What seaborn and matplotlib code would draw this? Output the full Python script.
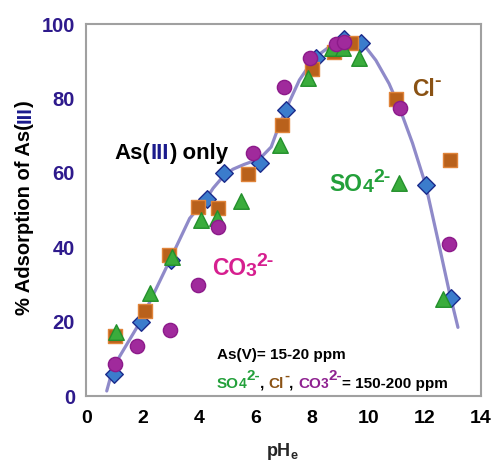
import seaborn as sns
import pandas as pd
import matplotlib.pyplot as plt

# As(III) only (diamonds)
ph_as3 = [1.0, 1.95, 3.0, 4.27, 4.9, 6.15, 7.1, 8.15, 9.15, 9.75, 12.05, 12.95]
ads_as3 = [6, 20, 36.5, 53, 60, 62.6, 77, 91, 96, 95, 56.7, 26.3]

# Cl- (squares)
ph_cl = [1.02, 2.1, 2.95, 3.96, 4.66, 5.72, 6.93, 8.0, 8.8, 9.4, 11.0, 12.9]
ads_cl = [16.2, 23, 38, 50.8, 50.5, 59.7, 73, 88, 92.5, 95, 80, 63.6]

# SO4 2- (triangles)
ph_so4 = [1.05, 2.25, 3.05, 4.07, 4.63, 5.48, 6.86, 7.85, 8.73, 9.1, 9.68, 11.1, 12.65]
ads_so4 = [17.2, 27.7, 37.3, 47.3, 47.8, 52.4, 67.5, 85.5, 93.5, 93.6, 91, 57.2, 26.2]

# CO3 2- (circles)
ph_co3 = [1.03, 1.82, 2.97, 3.96, 4.66, 5.9, 7.0, 7.92, 8.87, 9.15, 11.13, 12.86]
ads_co3 = [8.6, 13.4, 17.7, 30, 45.5, 65.3, 83, 91, 94.8, 95.2, 77.5, 40.8]

# trend curve
ph_fit = [0.73, 0.96, 1.91, 2.97, 3.67, 4.27, 4.5, 4.85, 5.2, 5.6, 6.15, 6.56, 6.86, 7.1,
          7.56, 8.1, 8.73, 9.2, 9.5, 9.8, 10.27, 10.74, 11.1, 11.57, 12.04, 12.5, 12.86, 13.18]
ads_fit = [1.4, 7.8, 19.9, 36.6, 47.8, 53.2, 55.9, 59.0, 61.0, 62.3, 63.8, 67, 73.2, 77.4,
           85, 91, 94.5, 96.0, 95.9, 94.9, 90.3, 84, 77.7, 68, 56.7, 41, 28.5, 18.5]

x_ticks = [0, 2, 4, 6, 8, 10, 12, 14]
y_ticks = [0, 20, 40, 60, 80, 100]

sns.set_style('white')
plt.rcParams['font.family'] = ['Liberation Sans', 'DejaVu Sans']
plt.rcParams['font.weight'] = 'bold'
plt.rcParams['mathtext.fontset'] = 'custom'
plt.rcParams['mathtext.bf'] = 'Liberation Sans:bold'
plt.rcParams['mathtext.rm'] = 'Liberation Sans:bold'

fig = plt.figure(figsize=(4.98, 4.65), dpi=100)
ax = fig.add_axes([0.173, 0.148, 0.793, 0.8])

fit_df = pd.DataFrame({'pH': ph_fit, 'ads': ads_fit})
sns.lineplot(data=fit_df, x='pH', y='ads', sort=False, color='#8f8ac9', lw=2.3, ax=ax, zorder=2)

series = [
    (ph_as3, ads_as3, 'D', '#3b7ccc', '#1b2b8c', 80),
    (ph_cl, ads_cl, 's', '#b9611b', '#e0843a', 110),
    (ph_so4, ads_so4, '^', '#3aac3c', '#23902c', 125),
    (ph_co3, ads_co3, 'o', '#a02a9c', '#8c1a8a', 105),
]
for i, (xv, yv, mk, fc, ec, s) in enumerate(series):
    df = pd.DataFrame({'pH': xv, 'ads': yv})
    sns.scatterplot(data=df, x='pH', y='ads', marker=mk, color=fc, edgecolor=ec,
                    linewidth=1.0, s=s, ax=ax, zorder=3 + i)

ax.set_xlim(0, 14)
ax.set_ylim(0, 100)
ax.set_xticks(x_ticks)
ax.set_yticks(y_ticks)
ax.set_xlabel('')
ax.set_ylabel('')
ax.tick_params(axis='x', direction='in', length=4, color='#999999', labelsize=14,
               labelcolor='black', pad=10)
ax.tick_params(axis='y', direction='out', length=4, color='#999999', labelsize=14.5,
               labelcolor='#2e1a8c', pad=4)
for lab in ax.get_xticklabels() + ax.get_yticklabels():
    lab.set_fontweight('bold')
for sp in ax.spines.values():
    sp.set_color('#a0a0a0')
    sp.set_linewidth(1.5)


def rich(x, y, pieces, size, coords, rot=0):
    # pieces: (text, color, scale, rise in fraction of size)
    base = None
    prev = None
    for txt, col, scale, rise in pieces:
        if base is None:
            if coords == 'fig':
                t = fig.text(x, y, txt, color=col, fontsize=size * scale, fontweight='bold',
                             ha='left' if rot == 0 else 'center', va='bottom', rotation=rot)
            else:
                t = ax.text(x, y, txt, color=col, fontsize=size * scale, fontweight='bold',
                            ha='left', va='bottom', zorder=10)
            base = t
        else:
            if rot == 0:
                t = ax.annotate(txt, xy=(1, 0), xycoords=(prev, base),
                                xytext=(0, rise * size), textcoords='offset points',
                                color=col, fontsize=size * scale, fontweight='bold',
                                ha='left', va='bottom', zorder=10, annotation_clip=False)
            else:
                t = ax.annotate(txt, xy=(0.5, 1), xycoords=prev, color=col,
                                fontsize=size * scale, fontweight='bold', rotation=rot,
                                ha='center', va='bottom', annotation_clip=False)
        prev = t


rich(1.02, 62.4, [('As(', 'black', 1, 0), ('III', '#1a1a8c', 1, 0), (') only', 'black', 1, 0)], 16, 'data')
rich(4.45, 31.2, [('CO', '#d61f8f', 1, 0), ('3', '#d61f8f', 0.85, 0), ('2-', '#d61f8f', 0.85, 0.45)], 16.5, 'data')
rich(8.62, 53.8, [('SO', '#23a03a', 1, 0), ('4', '#23a03a', 0.85, 0), ('2-', '#23a03a', 0.85, 0.45)], 16.5, 'data')
rich(11.55, 79.3, [('Cl', '#8a5214', 1, 0), ('-', '#8a5214', 0.85, 0.5)], 16.5, 'data')
rich(4.63, 9.3, [('As(V)= 15-20 ppm', 'black', 1, 0)], 11, 'data')
rich(4.63, 1.5, [('SO', '#23a03a', 1, 0), ('4', '#23a03a', 0.9, 0), ('2-', '#23a03a', 1.0, 0.5),
                 (', ', 'black', 1, 0), ('Cl', '#8a5214', 1, 0), ('-', '#8a5214', 1.0, 0.5),
                 (', ', 'black', 1, 0), ('CO', '#8e2190', 1, 0), ('3', '#8e2190', 0.9, 0),
                 ('2-', '#8e2190', 1.0, 0.5), ('= 150-200 ppm', 'black', 1, 0)], 11, 'data')

# y label with coloured numeral
rich(0.05, 0.322, [('% Adsorption of As(', 'black', 1, 0), ('III', '#1a1a8c', 1, 0), (')', 'black', 1, 0)],
     14.5, 'fig', rot=90)

# x label pHe
fig.text(0.534, 0.006, r'pH$\mathbf{_e}$', fontsize=13, fontweight='bold', ha='left', va='bottom')

fig.savefig('out.png', dpi=100)
